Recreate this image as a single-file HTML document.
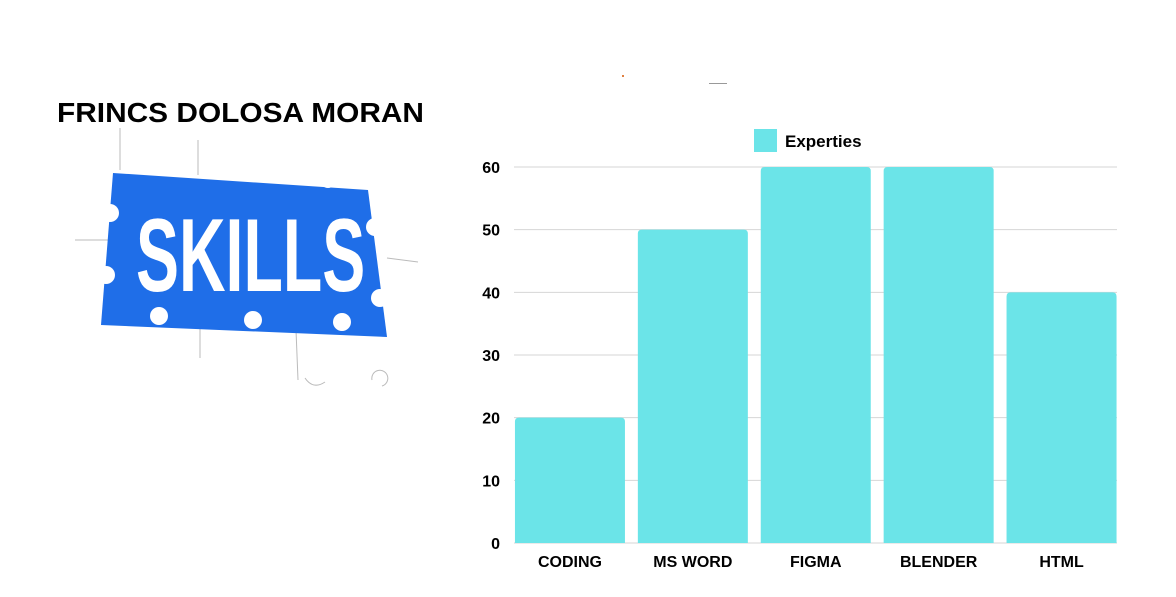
<!DOCTYPE html>
<html><head><meta charset="utf-8"><style>
html,body{margin:0;padding:0;background:#fff;width:1176px;height:597px;overflow:hidden;font-family:"Liberation Sans",sans-serif;}
svg{position:absolute;left:0;top:0}
</style></head><body>
<svg width="1176" height="597">
  <text x="57" y="122" font-size="28" font-weight="bold" fill="#000" textLength="367" lengthAdjust="spacingAndGlyphs">FRINCS DOLOSA MORAN</text>
  <g>
    <g stroke="#bbb" stroke-width="1" fill="none">
      <line x1="75" y1="240" x2="110" y2="240"/><line x1="387" y1="258" x2="418" y2="262"/>
      <line x1="200" y1="325" x2="200" y2="358"/><line x1="296" y1="330" x2="298" y2="380"/>
      <line x1="120" y1="128" x2="120" y2="170"/><line x1="198" y1="140" x2="198" y2="175"/>
      <path d="M372 380 a8 8 0 1 1 10 6"/><path d="M305 378 q8 12 20 4"/>
    </g>
    <polygon points="113,173 368,190 387,337 101,325" fill="#1f6ee8"/>
    <g fill="#fff">
      <circle cx="166" cy="166" r="9"/><circle cx="239" cy="172" r="9"/><circle cx="328" cy="180" r="8"/>
      <circle cx="110" cy="213" r="9"/><circle cx="106" cy="275" r="9"/><circle cx="375" cy="227" r="9"/><circle cx="380" cy="298" r="9"/>
      <circle cx="159" cy="316" r="9"/><circle cx="253" cy="320" r="9"/><circle cx="342" cy="322" r="9"/>
    </g>
    <text transform="translate(136,291) scale(0.62,1)" font-size="104" font-weight="bold" fill="#fff">SKILLS</text>
  </g>
  <rect x="622" y="75" width="2" height="2" fill="#e08040"/>
  <rect x="709" y="83" width="18" height="1" fill="#999"/>
  <g id="chart"></g>
</svg>
<script>
const categories = ["CODING","MS WORD","FIGMA","BLENDER","HTML"];
const values = [20,50,60,60,40];
const ticks = [0,10,20,30,40,50,60];
const seriesName = "Experties";
const NS="http://www.w3.org/2000/svg";
const g=document.getElementById('chart');
const x0=508.5,x1=1123,y0=543,yTop=167,maxV=60;
const band=(x1-x0)/categories.length;
const yS=v=>y0-(v/maxV)*(y0-yTop);
function mk(t,a){const e=document.createElementNS(NS,t);for(const k in a)e.setAttribute(k,a[k]);g.appendChild(e);return e;}
ticks.forEach(t=>{
  const l=mk('line',{x1:514,x2:1117,y1:yS(t),y2:yS(t),stroke:'#d6d6d6','stroke-width':1});
  
  
  const tx=mk('text',{x:500,y:yS(t)+6,'text-anchor':'end','font-size':16,'font-weight':'bold',fill:'#000'});
  tx.textContent=t;
  
  
});
categories.forEach((c,i)=>{
  const bx=x0+i*band+(band-110)/2;
  const y=yS(values[i]);
  const r=mk('path',{d:`M${bx} ${y0} V${y+4} q0 -4 4 -4 H${bx+106} q4 0 4 4 V${y0} Z`,fill:'#6be4e8'});
  
  
  const tx=mk('text',{x:x0+i*band+band/2,y:567,'text-anchor':'middle','font-size':16,'font-weight':'bold',fill:'#000'});
  tx.textContent=c;
  
  
});
const ls=mk('rect',{x:754,y:129,width:23,height:23,fill:'#6be4e8'});


const lt=mk('text',{x:785,y:147,'font-size':17,'font-weight':'bold',fill:'#000'});
lt.textContent=seriesName;


</script>
</body></html>
